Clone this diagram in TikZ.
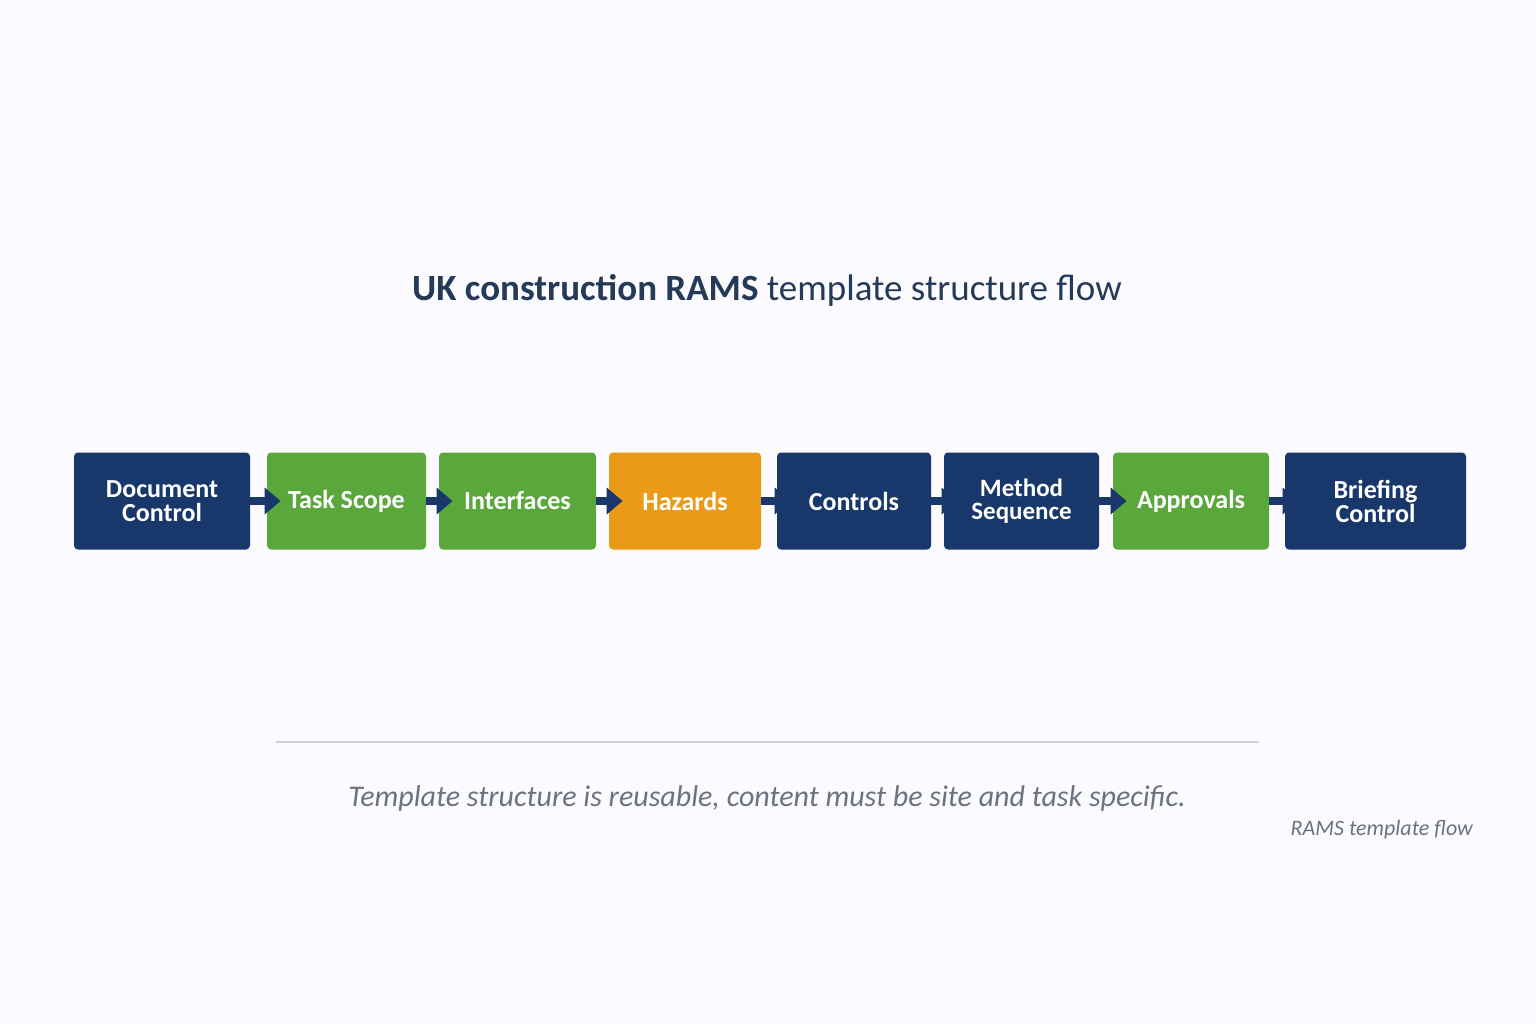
\documentclass[tikz,border=0pt]{standalone}
\usepackage{fontspec}
\setmainfont{Carlito}
\usetikzlibrary{arrows.meta}
\definecolor{navy}{HTML}{18376A}
\definecolor{leaf}{HTML}{5AA83C}
\definecolor{amber}{HTML}{EA9A17}
\definecolor{ink}{HTML}{253A57}
\definecolor{note}{HTML}{6B7280}
\tikzset{
  stage/.style={rectangle,rounded corners=2pt,text=white,font=\bfseries\fontsize{13}{12}\selectfont,
    align=center,minimum height=48.5pt,inner sep=1pt},
  flow/.style={-{Triangle[width=13pt,length=8pt]},line width=4pt,navy,shorten >=-7pt}
}
\begin{document}
\begin{tikzpicture}[x=0.5pt,y=-0.5pt]
  \fill[white!98!blue] (0,0) rectangle (1536,1024);
  \node[font=\fontsize{18.5}{20}\selectfont,text=ink] (title) at (767,290)
    {\textbf{UK construction RAMS} template structure flow};

  \node[stage,fill=navy,minimum width=88pt] (n1) at (162,501) {Document\\Control};
  \node[stage,fill=leaf,minimum width=79.5pt] (n2) at (346.5,501) {Task Scope};
  \node[stage,fill=leaf,minimum width=78.5pt] (n3) at (517.5,501) {Interfaces};
  \node[stage,fill=amber,minimum width=76pt] (n4) at (685,501) {Hazards};
  \node[stage,fill=navy,minimum width=77pt] (n5) at (854,501) {Controls};
  \node[stage,fill=navy,minimum width=77.5pt,font=\bfseries\fontsize{12.5}{11.5}\selectfont] (n6) at (1021.5,501) {Method\\Sequence};
  \node[stage,fill=leaf,minimum width=78pt] (n7) at (1191,501) {Approvals};
  \node[stage,fill=navy,minimum width=90.5pt] (n8) at (1375.5,501) {Briefing\\Control};

  \foreach \a/\b in {n1/n2,n2/n3,n3/n4,n4/n5,n5/n6,n6/n7,n7/n8}
    \draw[flow] (\a.east) -- (\b.west);

  \coordinate (r1) at (276,742);
  \coordinate (r2) at (1259,742);
  \draw[black!18,line width=0.6pt] (r1) -- (r2);
  \node[font=\itshape\fontsize{15}{16}\selectfont,text=note] (caption) at (767,798)
    {Template structure is reusable, content must be site and task specific.};
  \node[font=\itshape\fontsize{11}{12}\selectfont,text=note,anchor=east] (tag) at (1480,830)
    {RAMS template flow};
\end{tikzpicture}
\end{document}
